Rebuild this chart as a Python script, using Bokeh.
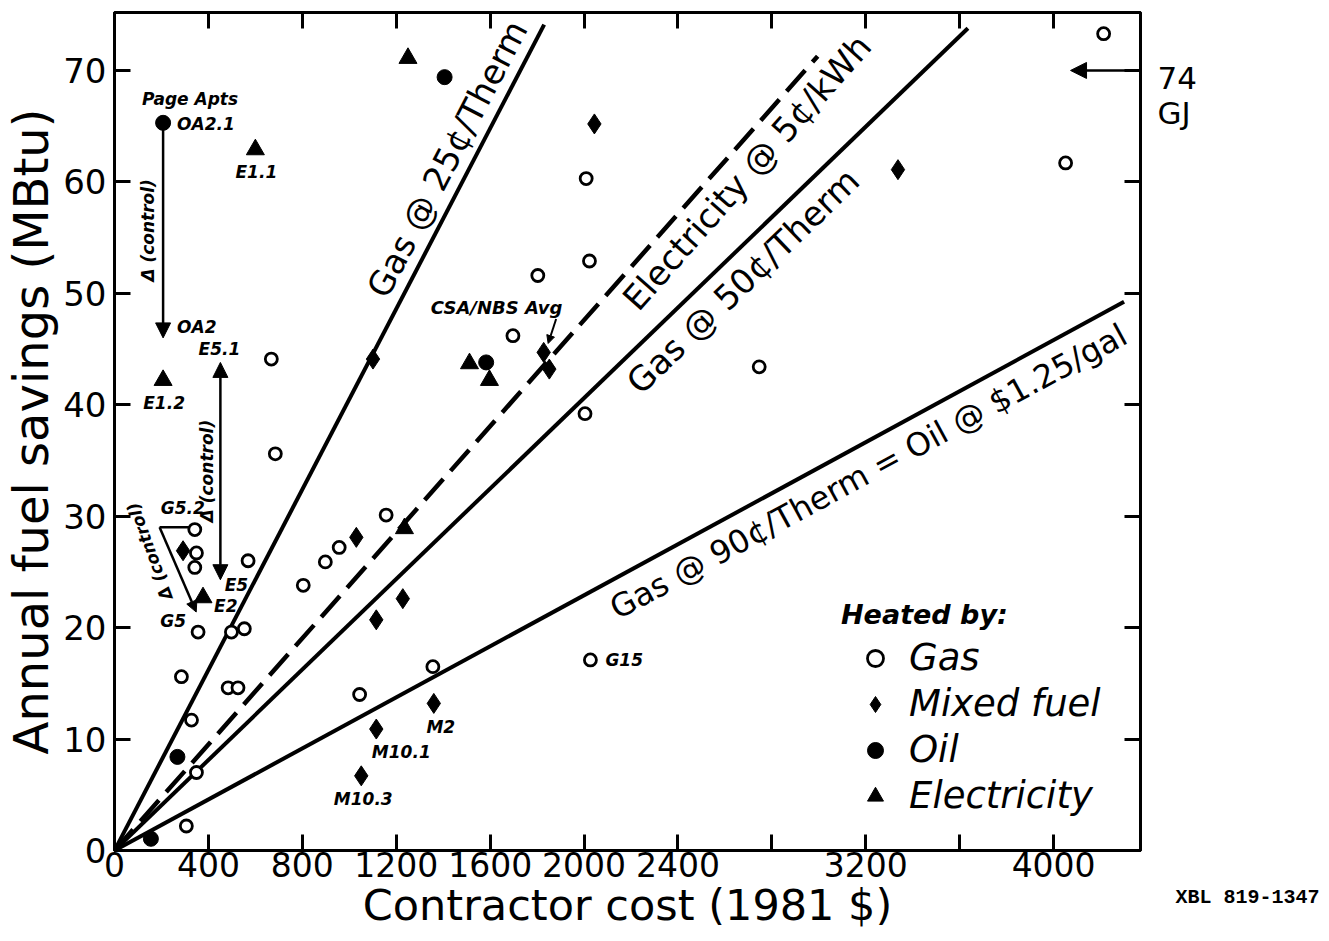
import math
from bokeh.plotting import figure
from bokeh.models import (Range1d, LinearAxis, FixedTicker, Arrow, NormalHead,
                          Label, Legend, LegendItem)
from bokeh.embed import file_html
from bokeh.resources import INLINE
from bokeh.core.properties import value

FONT = "DejaVu Sans"

# ---------------- data ----------------
gas_cost = [4213, 4051, 2009, 2023, 1803, 1697, 2746, 2004, 668, 685, 1157, 957, 898, 804,
            569, 342, 349, 342, 356, 498, 553, 484, 526, 285, 328, 349, 306, 1044, 1356, 2027]
gas_sav = [73.3, 61.7, 60.3, 52.9, 51.6, 46.2, 43.4, 39.2, 44.1, 35.6, 30.1, 27.2, 25.9, 23.8,
           26.0, 28.8, 26.7, 25.4, 19.6, 19.6, 19.9, 14.6, 14.6, 15.6, 11.7, 7.0, 2.2, 14.0, 16.5, 17.1]

mixed_cost = [2044, 3337, 1101, 1828, 1852, 1030, 1228, 1115, 1360, 1115, 1051, 292]
mixed_sav = [65.2, 61.1, 44.1, 44.7, 43.2, 28.1, 22.6, 20.7, 13.2, 10.9, 6.7, 26.9]

oil_cost = [207, 1406, 1583, 268, 155]
oil_sav = [65.3, 69.4, 43.8, 8.4, 1.05]

elec_cost = [1250, 600, 207, 1512, 1597, 1235, 377]
elec_sav = [71.1, 62.9, 42.2, 43.7, 42.2, 28.9, 22.7]

# control-adjusted positions (arrow ends, no marker)
ctrl_names = ["OA2", "E5.1", "E5"]
ctrl_cost = [207, 451, 451]
ctrl_sav = [46.0, 43.8, 24.3]

# break-even lines: savings = slope * cost
line_names = ["Gas @ 25¢/Therm", "Electricity @ 5¢/kWh", "Gas @ 50¢/Therm",
              "Gas @ 90¢/Therm = Oil @ $1.25/gal"]
line_slope = [0.0405, 0.0238, 0.0203, 0.01145]
line_xend = [1830, 2995, 3635, 4300]

x_ticks = [0, 400, 800, 1200, 1600, 2000, 2400, 2800, 3200, 3600, 4000]
x_unlabeled = [2800, 3600]
y_ticks = [0, 10, 20, 30, 40, 50, 60, 70]

gj_mark = 70  # 70 MBtu = 74 GJ

X_MAX, Y_MAX = 4370, 75.2
FW, FH = 1027, 838
ML, MR, MT, MB = 113, 189, 12, 91

p = figure(width=ML + FW + MR, height=MT + FH + MB,
           x_range=Range1d(0, X_MAX), y_range=Range1d(0, Y_MAX),
           output_backend="svg", toolbar_location=None,
           min_border_left=ML, min_border_right=MR, min_border_top=MT, min_border_bottom=MB,
           x_axis_label="Contractor cost (1981 $)",
           y_axis_label="Annual fuel savings (MBtu)")
p.grid.visible = False
p.outline_line_color = "black"
p.outline_line_width = 3
p.background_fill_color = "white"
p.border_fill_color = "white"

def style_axis(ax, ticks):
    ax.ticker = FixedTicker(ticks=ticks)
    ax.axis_line_width = 3
    ax.major_tick_line_width = 3
    ax.major_tick_in = 16
    ax.major_tick_out = 0
    ax.minor_tick_line_color = None
    ax.major_label_text_font = FONT
    ax.major_label_text_font_size = "34px"
    ax.major_label_text_color = "black"
    ax.axis_label_text_font = FONT
    ax.axis_label_text_font_style = "normal"
    ax.axis_label_text_color = "black"

xa = p.xaxis[0]
style_axis(xa, x_ticks)
xa.major_label_overrides = {t: "" for t in x_unlabeled}
xa.major_label_text_font_size = "33px"
xa.major_label_standoff = 1
xa.axis_label_text_font_size = "43px"
xa.axis_label_standoff = 0

ya = p.yaxis[0]
style_axis(ya, y_ticks)
ya.major_label_standoff = 8
ya.axis_label_text_font_size = "48px"
ya.axis_label_standoff = 1

# tick-only frame axes on top and right
top = LinearAxis()
style_axis(top, x_ticks)
top.major_label_text_color = None
top.major_label_text_font_size = "1px"
top.major_label_standoff = 0
p.add_layout(top, "above")
right = LinearAxis()
style_axis(right, y_ticks)
right.major_label_text_color = None
right.major_label_text_font_size = "1px"
right.major_label_standoff = 0
p.add_layout(right, "right")

# ---------------- break-even lines ----------------
px_x = FW / X_MAX
px_y = FH / Y_MAX
label_foot_x = [1508, 2617, 2600, 3156]
label_perp = [24, -24, -26, -27]
label_size = ["34px", "34px", "34px", "32px"]
for name, k, xe, fx, d, fs in zip(line_names, line_slope, line_xend, label_foot_x,
                                  label_perp, label_size):
    dash = "28 11" if "Electricity" in name else "solid"
    lw = 4.5 if "Electricity" in name else 4
    p.line([0, xe], [0, k * xe], line_color="black", line_width=lw, line_dash=dash)
    th = math.atan(k * px_y / px_x)
    p.text(x=[fx], y=[k * fx], text=[name], angle=th,
           x_offset=-d * math.sin(th), y_offset=-d * math.cos(th),
           text_align="center", text_baseline="middle",
           text_font=value(FONT), text_font_size=fs, text_color="black")

# ---------------- points ----------------
r_gas = p.scatter(gas_cost, gas_sav, marker="circle", size=12, fill_color="white",
                  line_color="black", line_width=2.8)
r_mix = p.scatter(mixed_cost, mixed_sav, marker="diamond", size=20, fill_color="black",
                  line_color="black")
r_oil = p.scatter(oil_cost, oil_sav, marker="circle", size=15, fill_color="black",
                  line_color="black")
r_ele = p.scatter(elec_cost, elec_sav, marker="triangle", size=18, fill_color="black",
                  line_color="black")

# ---------------- point labels ----------------
def lab(txt, x, y, dx, dy, align="center", size="17px", angle=0.0):
    p.text(x=[x], y=[y], text=[txt], x_offset=dx, y_offset=dy, angle=angle,
           text_align=align, text_baseline="middle", text_font=value(FONT),
           text_font_style="bold italic", text_font_size=size, text_color="black")

lab("Page Apts", oil_cost[0], oil_sav[0], 27, -24)
lab("OA2.1", oil_cost[0], oil_sav[0], 14, 1, "left")
lab("E1.1", elec_cost[1], elec_sav[1], 1, 22)
lab("E1.2", elec_cost[2], elec_sav[2], 1, 23)
lab("E2", elec_cost[6], elec_sav[6], 11, 8, "left")
lab("G5.2", gas_cost[15], gas_sav[15], -12, -22)
lab("G5", gas_cost[18], gas_sav[18], -25, -11)
lab("M10.1", mixed_cost[9], mixed_sav[9], 25, 23)
lab("M10.3", mixed_cost[10], mixed_sav[10], 2, 23)
lab("M2", mixed_cost[8], mixed_sav[8], 7, 24)
lab("G15", gas_cost[29], gas_sav[29], 15, 0, "left")
lab("CSA/NBS Avg", mixed_cost[3], mixed_sav[3], -47, -45, size="18px")
lab(ctrl_names[0], ctrl_cost[0], ctrl_sav[0], 14, -11, "left")
lab(ctrl_names[1], ctrl_cost[1], ctrl_sav[1], -1, -13)
lab(ctrl_names[2], ctrl_cost[2], ctrl_sav[2], 16, 5)

# ---------------- control arrows ----------------
def head(sz):
    return NormalHead(size=sz, fill_color="black", line_color="black", line_width=1)

p.add_layout(Arrow(x_start=oil_cost[0], y_start=oil_sav[0], x_end=ctrl_cost[0], y_end=ctrl_sav[0],
                   end=head(15), line_width=2.5, line_color="black"))
p.add_layout(Arrow(x_start=ctrl_cost[2], y_start=ctrl_sav[2], x_end=ctrl_cost[1], y_end=ctrl_sav[1],
                   start=head(15), end=head(15), line_width=2.5, line_color="black"))
mid_oa = (oil_sav[0] + ctrl_sav[0]) / 2
lab("Δ (control)", ctrl_cost[0], mid_oa, -15, 0, angle=math.pi / 2)
mid_e5 = (ctrl_sav[1] + ctrl_sav[2]) / 2
lab("Δ (control)", ctrl_cost[1], mid_e5, -13, 0, angle=math.pi / 2)

# G5.2 -> G5 bracket
cx, cy = gas_cost[15] - 150, gas_sav[15] + 0.2
p.line([cx, gas_cost[15] - 22], [cy, cy], line_color="black", line_width=2.5)
p.add_layout(Arrow(x_start=cx, y_start=cy, x_end=gas_cost[18] - 8, y_end=gas_sav[18] + 1.8,
                   end=head(11), line_width=2.5, line_color="black"))
lab("Δ (control)", cx, cy, -10, 24, angle=math.radians(110))

# CSA/NBS pointer
p.add_layout(Arrow(x_start=mixed_cost[3] + 53, y_start=mixed_sav[3] + 3.0,
                   x_end=mixed_cost[3] + 19, y_end=mixed_sav[3] + 0.8,
                   end=head(8), line_width=2, line_color="black"))

# ---------------- 74 GJ marker (outside the frame: right side panel) ----------------
p.add_layout(Arrow(x_start=X_MAX, y_start=gj_mark, x_end=4072, y_end=gj_mark,
                   end=head(16), line_width=2.5, line_color="black"))
p.add_layout(Label(x=X_MAX, y=gj_mark, text="74\nGJ", x_offset=17, y_offset=10,
                   text_font=FONT, text_font_size="31px", text_baseline="top",
                   text_line_height=0.95, text_align="left", text_color="black"), "right")
p.add_layout(Label(x=X_MAX, y=0, text="XBL 819-1347", x_offset=35, y_offset=-47,
                   text_font="Liberation Mono", text_font_style="bold", text_font_size="20px",
                   text_baseline="middle", text_align="left", text_color="black"), "right")

# ---------------- legend ----------------
legend = Legend(items=[LegendItem(label="Gas", renderers=[r_gas]),
                       LegendItem(label="Mixed fuel", renderers=[r_mix]),
                       LegendItem(label="Oil", renderers=[r_oil]),
                       LegendItem(label="Electricity", renderers=[r_ele])],
                title="Heated by:", location=(727, 33))
legend.border_line_color = None
legend.background_fill_alpha = 0
legend.padding = 0
legend.margin = 0
legend.spacing = 3
legend.glyph_width = 68
legend.glyph_height = 40
legend.label_height = 40
legend.label_standoff = 0
legend.label_text_font = FONT
legend.label_text_font_style = "italic"
legend.label_text_font_size = "37px"
legend.label_text_color = "black"
legend.title_text_font = FONT
legend.title_text_font_style = "bold italic"
legend.title_text_font_size = "27px"
legend.title_text_color = "black"
legend.title_standoff = 6
p.add_layout(legend)

open("out.html", "w").write(file_html(p, INLINE))
